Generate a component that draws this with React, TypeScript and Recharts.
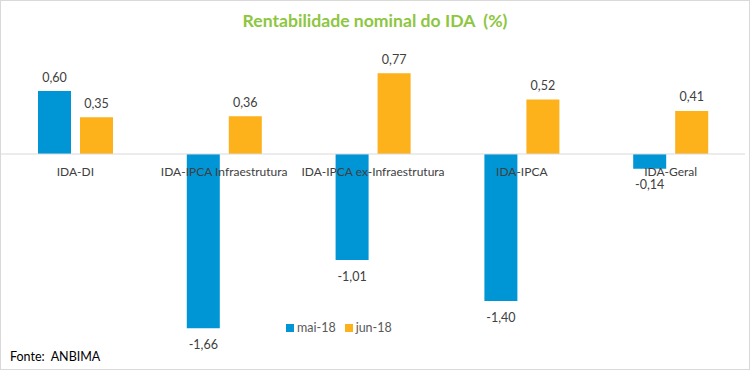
import React from "react";
import { XAxis, YAxis, ReferenceLine, LabelList, Line, Bar, ComposedChart } from "recharts";

const categories = ["IDA-DI", "IDA-IPCA Infraestrutura", "IDA-IPCA ex-Infraestrutura", "IDA-IPCA", "IDA-Geral"];
const mai18 = [0.6, -1.66, -1.01, -1.4, -0.14];
const jun18 = [0.35, 0.36, 0.77, 0.52, 0.41];
const seriesNames = ["mai-18", "jun-18"];
const colors = ["#0096D6", "#FDB11A"];

const data = categories.map((c, i) => ({ name: c, mai: mai18[i], jun: jun18[i], zero: 0 }));

const FONT = "Lato, 'Open Sans', sans-serif";

const fmt = (v: number) => v.toFixed(2).replace(".", ",");

const ValueLabel = (props: any) => {
  const { x, y, width, height, value } = props;
  const top = Math.min(y, y + height);
  const bottom = Math.max(y, y + height);
  const cx = x + width / 2;
  const ty = value >= 0 ? top - 14 : bottom + 16;
  return (
    <text x={cx} y={ty} textAnchor="middle" dominantBaseline="central" fill="#404040" fontSize={12.5} fontFamily={FONT}>
      {fmt(value)}
    </text>
  );
};

const CatLabel = (props: any) => {
  const { x, y, index } = props;
  return (
    <text x={x} y={y + 17} textAnchor="middle" dominantBaseline="central" fill="#404040" fontSize={12} fontFamily={FONT}>
      {categories[index]}
    </text>
  );
};

export default function App() {
  return (
    <div style={{ position: "absolute", left: 0, top: 0, width: 750, height: 370 }}>
      <div style={{ position: "absolute", left: 0, top: 0, width: 748, height: 368, border: "1px solid #D9D9D9" }} />
      <div style={{ position: "absolute", left: 0, top: 10, width: 750, textAlign: "center", fontFamily: FONT, fontWeight: 700, fontSize: 17.6, color: "#8DC63F" }}>
        Rentabilidade nominal do IDA&nbsp;&nbsp;(%)
      </div>
      <div style={{ position: "absolute", left: 0, top: 0 }}>
        <ComposedChart width={750} height={370} data={data} margin={{ top: 49, right: 5, left: 1, bottom: 6 }} barGap={9}>
          <XAxis dataKey="name" hide />
          <YAxis hide domain={[-2, 1]} width={0} />
          <ReferenceLine y={0} stroke="#D9D9D9" strokeWidth={1} />
          <Bar dataKey="mai" fill={colors[0]} barSize={33} isAnimationActive={false}>
            <LabelList dataKey="mai" content={ValueLabel} />
          </Bar>
          <Bar dataKey="jun" fill={colors[1]} barSize={33} isAnimationActive={false}>
            <LabelList dataKey="jun" content={ValueLabel} />
          </Bar>
          <Line dataKey="zero" stroke="none" dot={false} activeDot={false} isAnimationActive={false}>
            <LabelList dataKey="zero" content={CatLabel} />
          </Line>
        </ComposedChart>
      </div>
      <div style={{ position: "absolute", left: 286, top: 320, display: "flex", alignItems: "center", fontFamily: FONT, fontSize: 12.5, color: "#595959" }}>
        {seriesNames.map((n, i) => (
          <div key={n} style={{ display: "flex", alignItems: "center", marginRight: 9 }}>
            <span style={{ display: "inline-block", width: 8, height: 8, background: colors[i], marginRight: 3 }} />
            <span>{n}</span>
          </div>
        ))}
      </div>
      <div style={{ position: "absolute", left: 10, top: 349, fontFamily: FONT, fontSize: 12.5, color: "#000" }}>
        Fonte:&nbsp;&nbsp;ANBIMA
      </div>
    </div>
  );
}
